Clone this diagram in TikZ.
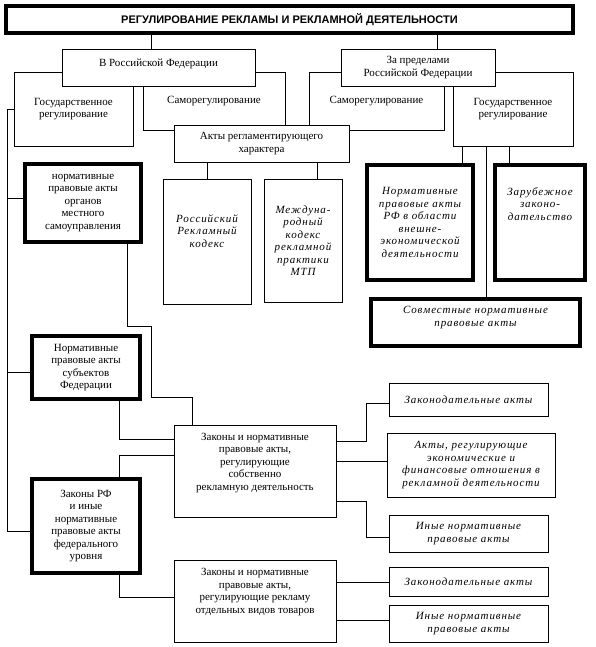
\documentclass[tikz,border=0pt]{standalone}
\usepackage{fontspec}
\setmainfont{Liberation Serif}
\newfontfamily\headfont{Liberation Sans}
\newfontfamily\slfont[LetterSpace=8]{Liberation Serif}
\usetikzlibrary{positioning}

\begin{document}
\begin{tikzpicture}[x=1pt, y=-1pt,
    regbox/.style={rectangle, draw=black, line width=0.8pt, fill=white, inner sep=0pt, outer sep=0pt,
      align=center, font=\fontsize{11}{12.5}\selectfont},
    heavybox/.style={regbox, line width=3.5pt},
    slanted/.style={align=center, font=\slfont\itshape\fontsize{11}{12.5}\selectfont},
    plaintxt/.style={align=center, font=\fontsize{11}{12.5}\selectfont},
    link/.style={line width=0.8pt}
  ]
    \useasboundingbox (0,0) rectangle (596,647);

    % heading
    \node[heavybox, minimum width=567, minimum height=27, font=\headfont\bfseries\fontsize{11}{13}\selectfont]
      (title) at (289.5,19.5) {РЕГУЛИРОВАНИЕ РЕКЛАМЫ И РЕКЛАМНОЙ ДЕЯТЕЛЬНОСТИ};

    % second and third rows (overlapping boxes)
    \node[regbox, minimum width=142, minimum height=58] (samL) at (214,101) {Саморегулирование};
    \node[regbox, minimum width=135, minimum height=58] (samR) at (376.5,101) {Саморегулирование};
    \node[regbox, minimum width=119, minimum height=74] (gosL) at (73.5,109) {Государственное\\регулирование};
    \node[regbox, minimum width=120, minimum height=74] (gosR) at (513,109) {Государственное\\регулирование};
    \node[regbox, minimum width=193, minimum height=37] (rf) at (158.5,67.5) {};
    \node[plaintxt] (rf-txt) at ([yshift=4pt]rf.center) {В Российской Федерации};
    \node[regbox, minimum width=154, minimum height=37] (abroad) at (418,67.5) {За пределами\\Российской Федерации};
    \node[regbox, minimum width=175, minimum height=37] (akty) at (261.5,143.5) {Акты регламентирующего\\характера};

    % acts
    \node[heavybox, minimum width=116, minimum height=78] (local) at (83,203)
      {нормативные\\правовые акты\\органов\\местного\\самоуправления};
    \node[regbox, minimum width=88, minimum height=125] (rrk) at (207,241.5) {};
    \node[slanted] (rrk-txt) at ([yshift=10.5pt]rrk.center) {Российский\\Рекламный\\кодекс};
    \node[regbox, slanted, minimum width=78, minimum height=123] (mkrp) at (303,240.5)
      {Междуна-\\родный\\кодекс\\рекламной\\практики\\МТП};
    \node[heavybox, slanted, minimum width=106, minimum height=115] (npa) at (420,222.5)
      {Нормативные\\правовые акты\\РФ в области\\внешне-\\экономической\\деятельности};
    \node[heavybox, minimum width=90, minimum height=115] (zarub) at (540,222.5) {};
    \node[slanted] (zarub-txt) at ([yshift=18.5pt]zarub.center) {Зарубежное\\законо-\\дательство};
    \node[heavybox, minimum width=209, minimum height=47] (sovm) at (475.5,322.5) {};
    \node[slanted] (sovm-txt) at ([yshift=5pt]sovm.center) {Совместные нормативные\\правовые акты};

    \node[heavybox, minimum width=108, minimum height=63] (subj) at (86,367.5)
      {Нормативные\\правовые акты\\субъектов\\Федерации};
    \node[heavybox, minimum width=108, minimum height=94] (zrf) at (86,526)
      {Законы РФ\\и иные\\нормативные\\правовые акты\\федерального\\уровня};

    \node[regbox, minimum width=162, minimum height=92] (zak1) at (255,471) {};
    \node[plaintxt] (zak1-txt) at ([yshift=8pt]zak1.center)
      {Законы и нормативные\\правовые акты,\\регулирующие\\собственно\\рекламную деятельность};
    \node[regbox, minimum width=162, minimum height=82] (zak2) at (255,601) {};
    \node[plaintxt] (zak2-txt) at ([yshift=9pt]zak2.center)
      {Законы и нормативные\\правовые акты,\\регулирующие рекламу\\отдельных видов товаров};

    \node[regbox, slanted, minimum width=159, minimum height=33] (za1) at (468.5,399.5) {Законодательные акты};
    \node[regbox, slanted, minimum width=168, minimum height=64] (ar) at (471,465)
      {Акты, регулирующие\\экономические и\\финансовые отношения в\\рекламной деятельности};
    \node[regbox, slanted, minimum width=159, minimum height=37] (inye1) at (468.5,533.5) {Иные нормативные\\правовые акты};
    \node[regbox, slanted, minimum width=159, minimum height=29] (za2) at (468.5,581.5) {Законодательные акты};
    \node[regbox, slanted, minimum width=159, minimum height=37] (inye2) at (468.5,623.5) {Иные нормативные\\правовые акты};

    % connectors
    \draw[link] ([xshift=-7.5pt]rf.north) -- ([xshift=-7.5pt]rf.north |- title.south);
    \draw[link] ([xshift=19pt]abroad.north) -- ([xshift=19pt]abroad.north |- title.south);
    \draw[link] (rrk.north) -- (rrk.north |- akty.south);
    \draw[link] ([xshift=14pt]mkrp.north) -- ([xshift=14pt]mkrp.north |- akty.south);
    \draw[link] ([xshift=42pt]npa.north) -- ([xshift=42pt]npa.north |- gosR.south);
    \draw[link] ([xshift=-31pt]zarub.north) -- ([xshift=-31pt]zarub.north |- gosR.south);
    \draw[link] ([xshift=10.5pt]sovm.north) -- ([xshift=10.5pt]sovm.north |- gosR.south);

    \draw[link] (gosL.west) -| ([xshift=-25pt,yshift=-5pt]zrf.west) -- ([yshift=-5pt]zrf.west);
    \draw[link] ([yshift=5pt]local.west) -- ++(-18,0);
    \draw[link] ([yshift=-4.5pt]subj.west) -- ++(-25,0);

    \draw[link] ([xshift=44pt]local.south) -- ++(0,84) -| ++(24,71) -| ([xshift=-63pt]zak1.north);
    \draw[link] ([xshift=33pt]subj.south) |- ([yshift=32pt]zak1.west);
    \draw[link] ([yshift=16pt]zak1.west) -| ([xshift=33pt]zrf.north);
    \draw[link] ([xshift=33pt]zrf.south) |- ([yshift=4pt]zak2.west);

    \draw[link] ([yshift=30pt]zak1.east) -- ++(30,0) |- ([yshift=-3.5pt]za1.west);
    \draw[link] ([yshift=10pt]zak1.east) -- ([yshift=10pt]zak1.east -| ar.west);
    \draw[link] ([yshift=-30pt]zak1.east) -- ++(30,0) |- ([yshift=-3.5pt]inye1.west);
    \draw[link] ([yshift=19pt]zak2.east) -- ([yshift=19pt]zak2.east -| za2.west);
    \draw[link] ([yshift=-19pt]zak2.east) -- ([yshift=-19pt]zak2.east -| inye2.west);
  \end{tikzpicture}
\end{document}
